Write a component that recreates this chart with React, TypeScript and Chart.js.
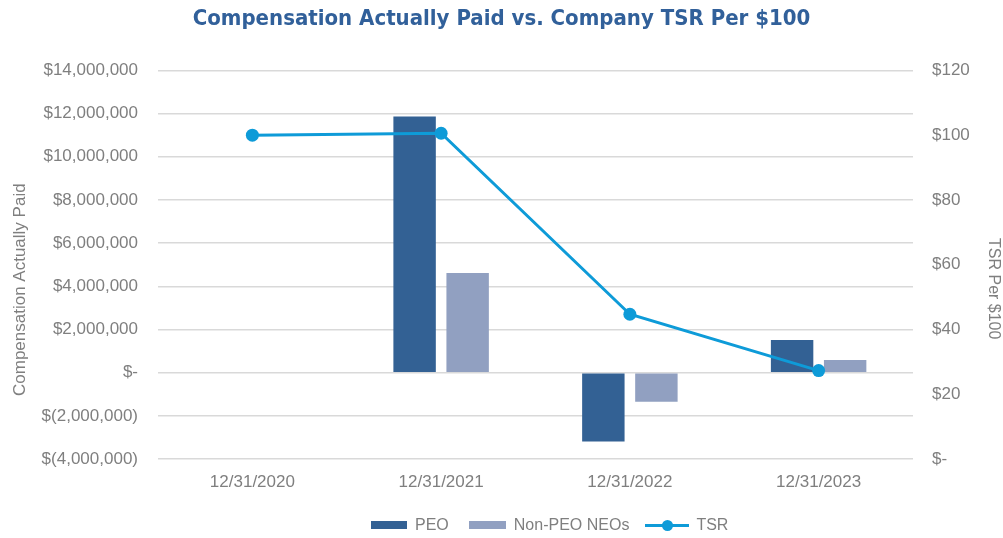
import React, { useEffect, useRef } from "react";
import { Chart, registerables } from "chart.js";

Chart.register(...registerables);

const TITLE = "Compensation Actually Paid vs. Company TSR Per $100";
const CATEGORIES = ["12/31/2020", "12/31/2021", "12/31/2022", "12/31/2023"];
const PEO_CAP: (number | null)[] = [null, 11860000, -3190000, 1510000];
const NEO_CAP: (number | null)[] = [null, 4620000, -1350000, 590000];
const TSR: number[] = [100, 100.6, 44.7, 27.3];
const SERIES_NAMES = ["PEO", "Non-PEO NEOs", "TSR"];
const LEFT_AXIS_TITLE = "Compensation Actually Paid";
const RIGHT_AXIS_TITLE = "TSR Per $100";

const PEO_COLOR = "#336194";
const NEO_COLOR = "#91A0C1";
const TSR_COLOR = "#0E9BD8";
const TEXT_GREY = "#7f7f7f";
const GRID = "#d9d9d9";
const FONT = "'Liberation Sans', Arial, sans-serif";

function fmtMoney(v: number): string {
  if (Math.abs(v) < 1e-9) return "$-";
  const s = Math.abs(v).toLocaleString("en-US");
  return v < 0 ? `$(${s})` : `$${s}`;
}

// Axis titles drawn rotated, offset slightly below the plot centre as in the reference
const axisTitlesPlugin = {
  id: "axisTitles",
  afterDraw(chart: any) {
    const ctx = chart.ctx as CanvasRenderingContext2D;
    const area = chart.chartArea;
    const cy = (area.top + area.bottom) / 2 + 25;
    ctx.save();
    ctx.fillStyle = TEXT_GREY;
    ctx.textAlign = "center";
    ctx.textBaseline = "middle";
    ctx.font = `17px ${FONT}`;
    ctx.translate(20, cy);
    ctx.rotate(-Math.PI / 2);
    ctx.fillText(LEFT_AXIS_TITLE, 0, 0);
    ctx.restore();
    ctx.save();
    ctx.fillStyle = TEXT_GREY;
    ctx.textAlign = "center";
    ctx.textBaseline = "middle";
    ctx.font = `16px ${FONT}`;
    ctx.translate(chart.width - 10, cy - 1);
    ctx.rotate(Math.PI / 2);
    ctx.fillText(RIGHT_AXIS_TITLE, 0, 0);
    ctx.restore();
  },
};

export default function App() {
  const ref = useRef<HTMLCanvasElement | null>(null);

  useEffect(() => {
    if (!ref.current) return;
    const chart = new Chart(ref.current, {
      type: "bar",
      data: {
        labels: CATEGORIES,
        datasets: [
          {
            type: "line",
            label: SERIES_NAMES[2],
            data: TSR,
            yAxisID: "y2",
            borderColor: TSR_COLOR,
            backgroundColor: TSR_COLOR,
            borderWidth: 3,
            pointRadius: 6.5,
            pointBackgroundColor: TSR_COLOR,
            pointBorderWidth: 0,
            tension: 0,
            order: 0,
          } as any,
          {
            type: "bar",
            label: SERIES_NAMES[0],
            data: PEO_CAP,
            yAxisID: "y",
            backgroundColor: PEO_COLOR,
            categoryPercentage: 0.562,
            barPercentage: 0.8,
            order: 1,
          },
          {
            type: "bar",
            label: SERIES_NAMES[1],
            data: NEO_CAP,
            yAxisID: "y",
            backgroundColor: NEO_COLOR,
            categoryPercentage: 0.562,
            barPercentage: 0.8,
            order: 1,
          },
        ],
      },
      options: {
        responsive: false,
        animation: false,
        layout: { padding: 0 },
        plugins: {
          legend: { display: false },
          tooltip: { enabled: false },
          title: {
            display: true,
            text: TITLE,
            color: "#31609A",
            font: { family: "'DejaVu Sans Condensed', 'DejaVu Sans', sans-serif", size: 22, weight: "bold" },
            padding: { top: 6, bottom: 38 },
          },
        },
        scales: {
          x: {
            grid: { display: false },
            border: { display: false },
            ticks: { color: TEXT_GREY, font: { family: FONT, size: 17 }, padding: 5, maxRotation: 0 },
            afterFit: (s: any) => {
              s.height = 79;
            },
          },
          y: {
            position: "left",
            min: -4000000,
            max: 14000000,
            grid: { color: GRID, lineWidth: 1.5, drawTicks: false },
            border: { display: false },
            ticks: {
              stepSize: 2000000,
              color: TEXT_GREY,
              font: { family: FONT, size: 17 },
              padding: 20,
              callback: (v: any) => fmtMoney(Number(v)),
            },
            afterFit: (s: any) => {
              s.width = 158;
            },
          },
          y2: {
            position: "right",
            min: 0,
            max: 120,
            grid: { display: false, drawTicks: false },
            border: { display: false },
            ticks: {
              stepSize: 20,
              color: TEXT_GREY,
              font: { family: FONT, size: 17 },
              padding: 19,
              callback: (v: any) => (Number(v) === 0 ? "$-" : `$${v}`),
            },
            afterFit: (s: any) => {
              s.width = 90;
            },
          },
        },
      } as any,
      plugins: [axisTitlesPlugin],
    });
    return () => chart.destroy();
  }, []);

  const legendText: React.CSSProperties = {
    fontFamily: FONT,
    fontSize: 16,
    color: TEXT_GREY,
    lineHeight: "16px",
  };

  return (
    <div style={{ position: "absolute", left: 0, top: 0, width: 1003, height: 538, background: "#fff", overflow: "hidden" }}>
      <canvas ref={ref} width={1003} height={538} style={{ display: "block" }} />
      <div
        style={{
          position: "absolute",
          left: 371,
          top: 517,
          display: "flex",
          alignItems: "center",
          height: 16,
        }}
      >
        <div style={{ width: 36, height: 8, background: PEO_COLOR, marginRight: 8 }} />
        <span style={{ ...legendText, marginRight: 20 }}>{SERIES_NAMES[0]}</span>
        <div style={{ width: 37, height: 8, background: NEO_COLOR, marginRight: 8 }} />
        <span style={{ ...legendText, marginRight: 16 }}>{SERIES_NAMES[1]}</span>
        <div style={{ position: "relative", width: 44, height: 12, marginRight: 7 }}>
          <div style={{ position: "absolute", left: 0, top: 5, width: 44, height: 3, background: TSR_COLOR }} />
          <div
            style={{
              position: "absolute",
              left: 17,
              top: 1,
              width: 11,
              height: 11,
              borderRadius: "50%",
              background: TSR_COLOR,
            }}
          />
        </div>
        <span style={legendText}>{SERIES_NAMES[2]}</span>
      </div>
    </div>
  );
}
